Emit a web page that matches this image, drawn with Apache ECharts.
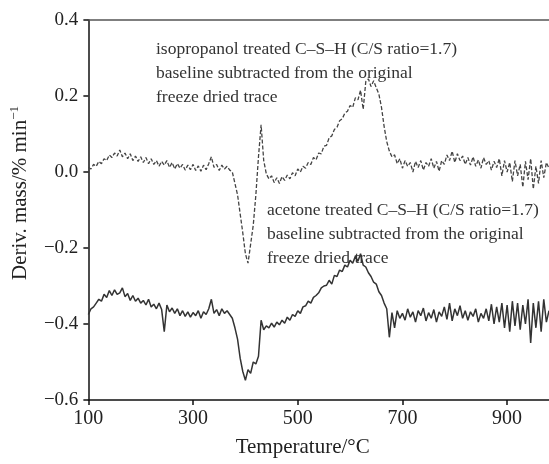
<!DOCTYPE html>
<html>
<head>
<meta charset="utf-8">
<script src="https://cdn.jsdelivr.net/npm/echarts@6/dist/echarts.min.js"></script>
<style>
  html, body { margin: 0; padding: 0; background: #fff; }
  #chart { width: 549px; height: 464px; }
</style>
</head>
<body>
<div id="chart"></div>
<script>
// temperature grid of the traces, 100..980 degC every 5 degC
const temps = [];
for (let t = 100; t <= 980; t += 5) temps.push(t);

// isopropanol treated C-S-H (one row = 50 degC)
const isopropanol = [
  0.012, 0.008, 0.020, 0.015, 0.028, 0.022, 0.035, 0.030, 0.045, 0.038,   // 100
  0.050, 0.042, 0.058, 0.040, 0.050, 0.035, 0.048, 0.030, 0.042, 0.028,   // 150
  0.040, 0.025, 0.038, 0.022, 0.035, 0.020, 0.030, 0.015, 0.028, 0.018,   // 200
  0.030, 0.012, 0.025, 0.008, 0.022, 0.010, 0.020, 0.005, 0.018, 0.006,   // 250
  0.020, 0.004, 0.016, 0.002, 0.018, 0.006, 0.022, 0.040, 0.012, 0.020,   // 300
  0.004, 0.018, 0.008, 0.015, 0.005, 0.000, -0.030, -0.060, -0.110, -0.160, // 350
  -0.215, -0.240, -0.190, -0.140, -0.060, 0.040, 0.124, 0.030, -0.005, -0.018, // 400
  -0.010, -0.028, -0.015, -0.030, -0.012, -0.022, -0.008, -0.018, -0.002, -0.010, // 450
  0.008, 0.000, 0.015, 0.010, 0.025, 0.020, 0.038, 0.032, 0.050, 0.048,   // 500
  0.068, 0.070, 0.090, 0.095, 0.112, 0.118, 0.135, 0.140, 0.155, 0.160,   // 550
  0.175, 0.170, 0.195, 0.190, 0.215, 0.165, 0.238, 0.245, 0.225, 0.240,   // 600
  0.222, 0.205, 0.170, 0.120, 0.080, 0.055, 0.040, 0.045, 0.022, 0.035,   // 650
  0.010, 0.030, 0.015, 0.025, 0.000, 0.028, 0.012, 0.030, 0.005, 0.025,   // 700
  0.015, 0.035, 0.010, 0.028, 0.002, 0.030, 0.020, 0.045, 0.030, 0.055,   // 750
  0.025, 0.048, 0.030, 0.042, 0.020, 0.038, 0.018, 0.040, 0.015, 0.032,   // 800
  0.010, 0.038, 0.020, 0.030, 0.005, 0.028, 0.012, 0.035, -0.010, 0.030,  // 850
  0.000, 0.025, -0.025, 0.030, -0.010, 0.020, -0.040, 0.028, -0.020, 0.035, // 900
  -0.045, 0.015, -0.030, 0.030, -0.015, 0.025, 0.010                       // 950
];

// acetone treated C-S-H
const acetone = [
  -0.375, -0.360, -0.355, -0.345, -0.335, -0.340, -0.322, -0.330, -0.312, -0.325, // 100
  -0.310, -0.322, -0.318, -0.305, -0.328, -0.320, -0.338, -0.325, -0.340, -0.332, // 150
  -0.345, -0.338, -0.350, -0.335, -0.355, -0.348, -0.360, -0.345, -0.362, -0.420, // 200
  -0.350, -0.368, -0.358, -0.372, -0.360, -0.378, -0.365, -0.380, -0.368, -0.382, // 250
  -0.370, -0.378, -0.365, -0.385, -0.368, -0.375, -0.360, -0.335, -0.372, -0.362, // 300
  -0.378, -0.360, -0.372, -0.365, -0.375, -0.385, -0.410, -0.440, -0.490, -0.525, // 350
  -0.548, -0.520, -0.530, -0.500, -0.505, -0.485, -0.390, -0.415, -0.405, -0.410, // 400
  -0.398, -0.408, -0.395, -0.402, -0.390, -0.398, -0.382, -0.390, -0.375, -0.380, // 450
  -0.365, -0.372, -0.355, -0.352, -0.340, -0.345, -0.330, -0.325, -0.318, -0.305, // 500
  -0.300, -0.298, -0.285, -0.295, -0.272, -0.275, -0.258, -0.262, -0.245, -0.250, // 550
  -0.232, -0.240, -0.222, -0.235, -0.215, -0.245, -0.250, -0.265, -0.275, -0.290, // 600
  -0.295, -0.315, -0.325, -0.345, -0.360, -0.435, -0.370, -0.410, -0.365, -0.385, // 650
  -0.372, -0.390, -0.360, -0.382, -0.368, -0.395, -0.365, -0.378, -0.358, -0.392, // 700
  -0.370, -0.385, -0.362, -0.395, -0.368, -0.380, -0.355, -0.388, -0.345, -0.392, // 750
  -0.360, -0.378, -0.352, -0.385, -0.365, -0.390, -0.368, -0.380, -0.360, -0.395, // 800
  -0.372, -0.385, -0.360, -0.392, -0.348, -0.400, -0.355, -0.395, -0.345, -0.410, // 850
  -0.350, -0.420, -0.340, -0.405, -0.345, -0.415, -0.350, -0.400, -0.335, -0.450, // 900
  -0.345, -0.410, -0.340, -0.420, -0.335, -0.395, -0.365                          // 950
];

const xTicks = [100, 300, 500, 700, 900];

const label1 = ['isopropanol treated C\u2013S\u2013H (C/S ratio=1.7)',
                'baseline subtracted from the original',
                'freeze dried trace'];
const label2 = ['acetone treated C\u2013S\u2013H (C/S ratio=1.7)',
                'baseline subtracted from the original',
                'freeze dried trace'];

const font = '"Liberation Serif", "Times New Roman", serif';
const ink = '#222';

function pairs(vals) {
  return temps.map((t, i) => [t, vals[i]]);
}

const chart = echarts.init(document.getElementById('chart'), null, { renderer: 'canvas' });

chart.setOption({
  animation: false,
  backgroundColor: '#fff',
  grid: { left: 87, right: 0, top: 20, bottom: 64 },
  xAxis: [{
    type: 'value',
    min: 100,
    max: 980,
    interval: 200,
    name: 'Temperature/\u00b0C',
    nameLocation: 'middle',
    nameGap: 37,
    nameTextStyle: { fontFamily: font, fontSize: 21, color: ink, padding: [0, 32, 0, 0] },
    axisLine: { onZero: false, lineStyle: { color: '#111', width: 1.5 } },
    axisTick: { show: true, length: 5, customValues: xTicks, lineStyle: { color: '#111', width: 1.5 } },
    axisLabel: { fontFamily: font, fontSize: 20, color: ink, margin: 9, customValues: xTicks },
    splitLine: { show: false }
  }, {
    type: 'value',
    position: 'top',
    min: 100,
    max: 980,
    axisLine: { show: true, onZero: false, lineStyle: { color: '#555', width: 1.5 } },
    axisTick: { show: false },
    axisLabel: { show: false },
    splitLine: { show: false }
  }],
  yAxis: {
    type: 'value',
    min: -0.6,
    max: 0.4,
    interval: 0.2,
    name: '{a|Deriv. mass/% min}{s|\u22121}',
    nameLocation: 'middle',
    nameGap: 54,
    nameRotate: 90,
    nameTextStyle: {
      color: ink,
      padding: [0, 0, 0, 34],
      rich: {
        a: { fontFamily: font, fontSize: 21, color: ink, lineHeight: 24 },
        s: { fontFamily: font, fontSize: 13, color: ink, verticalAlign: 'top', lineHeight: 24, padding: [0, 0, 12, 0] }
      }
    },
    axisLine: { show: true, onZero: false, lineStyle: { color: '#111', width: 1.5 } },
    axisTick: { show: true, length: 5, lineStyle: { color: '#111', width: 1.5 } },
    axisLabel: {
      fontFamily: font, fontSize: 19, color: ink, margin: 10,
      formatter: v => (v < -1e-9 ? '\u2212' : '') + Math.abs(v).toFixed(1)
    },
    splitLine: { show: false }
  },
  graphic: [{
    type: 'text',
    left: 156,
    top: 37,
    style: { text: label1.join('\n'), font: '17.5px ' + font, fill: '#333', lineHeight: 24 }
  }, {
    type: 'text',
    left: 267,
    top: 198,
    style: { text: label2.join('\n'), font: '17.5px ' + font, fill: '#333', lineHeight: 24 }
  }],
  series: [{
    name: 'isopropanol',
    type: 'line',
    data: pairs(isopropanol),
    showSymbol: false,
    lineStyle: { color: '#444', width: 1.3, type: [4, 2] }
  }, {
    name: 'acetone',
    type: 'line',
    data: pairs(acetone),
    showSymbol: false,
    lineStyle: { color: '#333', width: 1.5 }
  }]
});
</script>
</body>
</html>
